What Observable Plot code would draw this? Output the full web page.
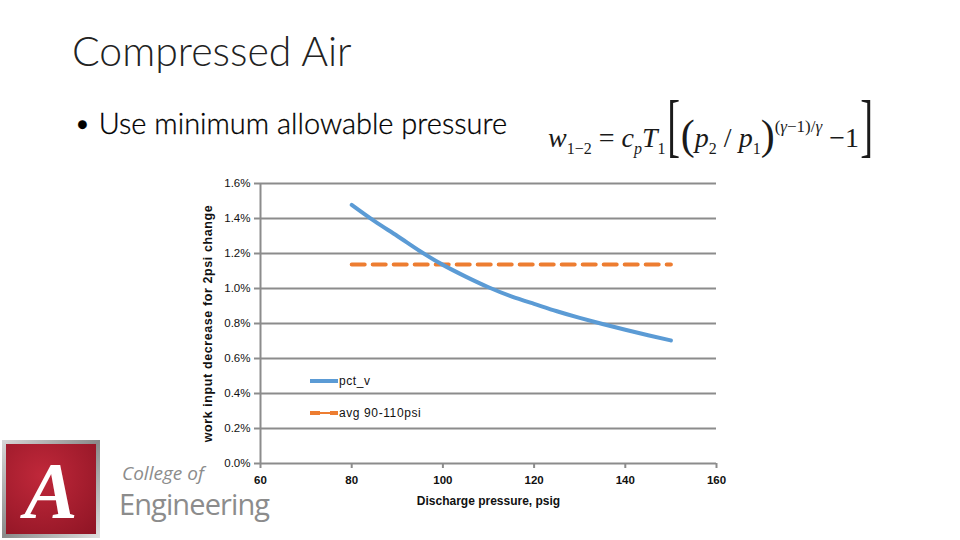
<!DOCTYPE html>
<html>
<head>
<meta charset="utf-8">
<script src="https://cdn.jsdelivr.net/npm/d3@7"></script>
<script src="https://cdn.jsdelivr.net/npm/@observablehq/plot@0.6"></script>
<style>
  html, body { margin:0; padding:0; background:#fff; }
  #page { position:relative; width:960px; height:540px; overflow:hidden; font-family: Lato, "Open Sans", sans-serif; }
  #chart { position:absolute; left:0; top:0; }
  .abs { position:absolute; white-space:nowrap; }
  #title { left:72px; top:26px; font-size:41px; font-weight:300; color:#222; }
  #bullet { left:74px; top:105px; font-size:29px; font-weight:300; color:#000; -webkit-text-stroke:0.3px #000; }
  #formula { left:548px; top:92px; height:64px; font-family:"Liberation Serif", serif; font-size:28px; color:#1a1a1a; line-height:64px; }
  #formula .sb { font-size:16px; position:relative; top:7px; }
  #formula .sp { font-size:17px; position:relative; top:-15px; }
  #formula .bk { font-size:70px; display:inline-block; transform:scaleX(0.55); margin:0 -4px; position:relative; top:2px; font-weight:normal; }
  #formula .pr { font-size:42px; position:relative; top:2px; }
  #legend { left:310px; top:370px; font-family:"Liberation Sans", sans-serif; font-size:12px; color:#111; letter-spacing:0.6px; }
  #logo { left:2px; top:440px; width:98px; height:98px; background:linear-gradient(135deg,#d8d8d8,#8a8a8a,#e0e0e0); }
  #logoin { position:absolute; left:4px; top:4px; width:90px; height:90px; background:radial-gradient(circle at 40% 35%, #c0283a, #8e1424); }
  #logoA { position:absolute; left:0; top:2px; width:90px; text-align:center; font-family:"Liberation Serif", serif; font-style:italic; font-weight:bold; font-size:80px; color:#fff; }
  #college { left:122px; top:464px; line-height:19px; height:19px; font-family:"Open Sans", sans-serif; font-style:italic; font-size:19px; color:#8c8c8c; }
  #eng { left:119px; top:491px; line-height:25px; height:25px; font-family:"Open Sans", sans-serif; font-size:29px; color:#8c8c8c; letter-spacing:-0.9px; }
</style>
</head>
<body>
<div id="page">
  <div id="chart"></div>
  <div class="abs" id="title">Compressed Air</div>
  <div class="abs" id="bullet">• Use minimum allowable pressure</div>
  <div class="abs" id="formula"></div>
  <div class="abs" id="legend"></div>
  <div class="abs" id="logo"><div id="logoin"><div id="logoA">A</div></div></div>
  <div class="abs" id="college">College of</div>
  <div class="abs" id="eng">Engineering</div>
</div>
<script>
// Data (estimated)
const pressure = [80, 85, 90, 95, 100, 105, 110, 115, 120, 125, 130, 135, 140, 145, 150];
const pctV     = [0.01478, 0.01385, 0.01300, 0.01213, 0.01135, 0.01068, 0.01007, 0.00955, 0.00912, 0.00870, 0.00832, 0.00797, 0.00764, 0.00733, 0.00703];
const avgRange = [80, 150];
const avgValue = 0.01137;
const xTicks = [60, 80, 100, 120, 140, 160];
const yTicks = [0, 0.002, 0.004, 0.006, 0.008, 0.010, 0.012, 0.014, 0.016];
const seriesNames = ["pct_v", "avg 90-110psi"];
const seriesColors = ["#5b9bd5", "#ed7d31"];

const blue = pressure.map((p, i) => ({x: p, y: pctV[i]}));
const orange = avgRange.map(p => ({x: p, y: avgValue}));

const grid = "#8c8c8c";
const chart = Plot.plot({
  width: 960,
  height: 540,
  marginLeft: 260,
  marginRight: 244,
  marginTop: 183,
  marginBottom: 77,
  style: {fontFamily: "'Liberation Sans', sans-serif", fontSize: "11.5px", color: "#111", background: "transparent"},
  x: {domain: [60, 160]},
  y: {domain: [0, 0.016]},
  marks: [
    Plot.gridY(yTicks, {stroke: grid, strokeOpacity: 1, strokeWidth: 2}),
    Plot.ruleX([60], {stroke: grid, strokeWidth: 2}),
    Plot.axisY({ticks: yTicks, tickSize: 6, tickPadding: 4, stroke: grid, strokeWidth: 2,
      tickFormat: d => (d * 100).toFixed(1) + "%",
      label: "work input decrease for 2psi change", labelAnchor: "center", labelArrow: "none", labelOffset: 57}),
    Plot.axisX({ticks: xTicks, tickSize: 5, tickPadding: 7, stroke: grid, strokeWidth: 2, fontWeight: "bold",
      label: "Discharge pressure, psig", labelAnchor: "center", labelArrow: "none", labelOffset: 41}),
    Plot.line(orange, {x: "x", y: "y", stroke: seriesColors[1], strokeWidth: 4, strokeDasharray: "13,8"}),
    Plot.line(blue, {x: "x", y: "y", stroke: seriesColors[0], strokeWidth: 4, curve: "natural"})
  ]
});
document.getElementById("chart").appendChild(chart);

// style axis labels bold
chart.querySelectorAll("g[aria-label='y-axis label'] text").forEach(t => {
  t.setAttribute("font-weight", "bold");
  t.setAttribute("font-size", "12.5");
  t.setAttribute("letter-spacing", "0.6");
});
chart.querySelectorAll("g[aria-label='x-axis label'] text").forEach(t => {
  t.setAttribute("font-weight", "bold");
  t.setAttribute("font-size", "12");
});

// Legend
const leg = document.getElementById("legend");
leg.innerHTML =
  `<div style="height:22px;display:flex;align-items:center"><svg width="28" height="10"><line x1="0" y1="5" x2="28" y2="5" stroke="${seriesColors[0]}" stroke-width="4"/></svg><span style="margin-left:1px">${seriesNames[0]}</span></div>` +
  `<div style="height:22px;margin-top:10px;display:flex;align-items:center"><svg width="28" height="10"><line x1="0" y1="5" x2="10" y2="5" stroke="${seriesColors[1]}" stroke-width="4"/><line x1="10" y1="5" x2="20" y2="5" stroke="${seriesColors[1]}" stroke-width="2"/><line x1="20" y1="5" x2="28" y2="5" stroke="${seriesColors[1]}" stroke-width="4"/></svg><span style="margin-left:1px">${seriesNames[1]}</span></div>`;

// Formula
document.getElementById("formula").innerHTML =
  `<i>w</i><span class="sb">1−2</span> = <i>c</i><span class="sb"><i>p</i></span><i>T</i><span class="sb">1</span>` +
  `<span class="bk">[</span>` +
  `<span class="pr">(</span><i>p</i><span class="sb">2</span> / <i>p</i><span class="sb">1</span><span class="pr">)</span>` +
  `<span class="sp">(<i>γ</i>−1)/<i>γ</i></span> −1` +
  `<span class="bk">]</span>`;
</script>
</body>
</html>
